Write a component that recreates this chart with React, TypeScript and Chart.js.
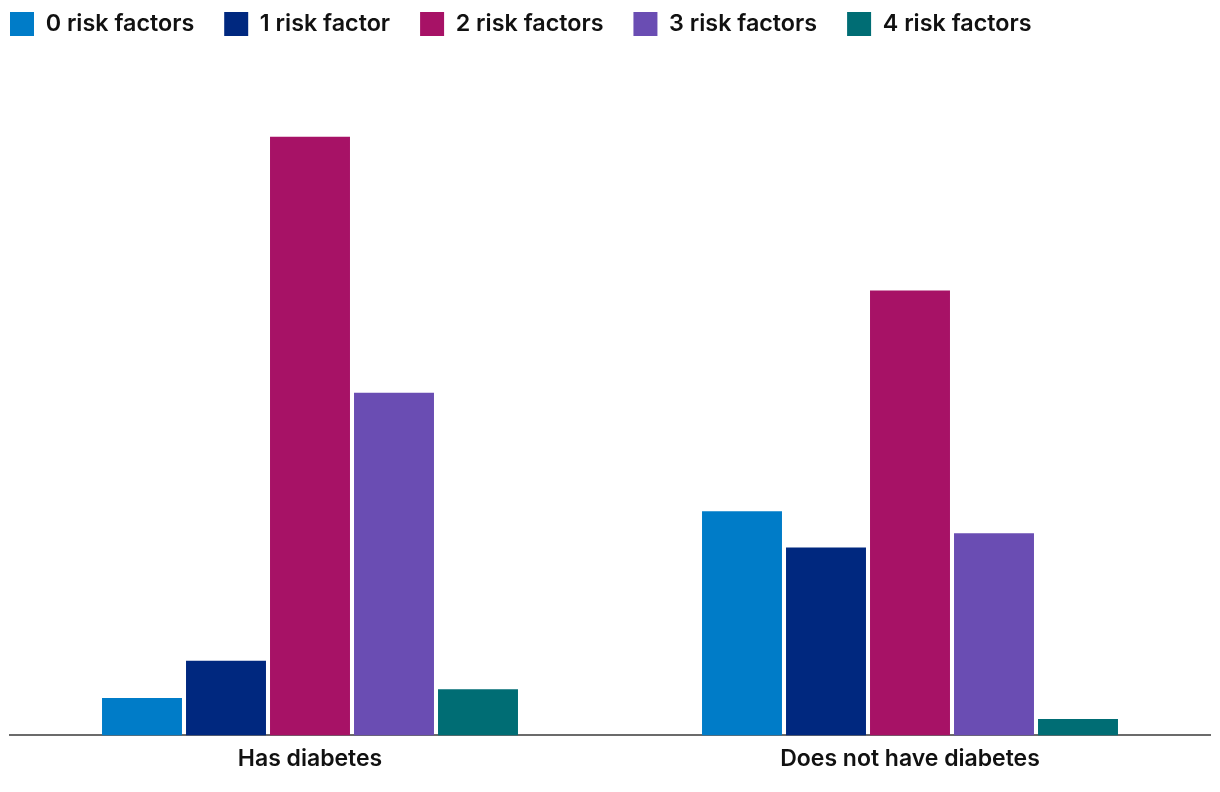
import React, { useEffect, useRef } from "react";
import { Chart, registerables } from "chart.js";

Chart.register(...registerables);

const categories = ["Has diabetes", "Does not have diabetes"];
const seriesNames = ["0 risk factors", "1 risk factor", "2 risk factors", "3 risk factors", "4 risk factors"];
const zeroRisk = [3.4, 20.4];
const oneRisk = [6.8, 17.1];
const twoRisk = [54.5, 40.5];
const threeRisk = [31.2, 18.4];
const fourRisk = [4.2, 1.5];
const seriesColors = ["#007CC8", "#00287F", "#A71266", "#6A4DB3", "#006D74"];

const FONT = "Inter, 'Noto Sans', sans-serif";

export default function App() {
  const ref = useRef<HTMLCanvasElement | null>(null);
  useEffect(() => {
    if (!ref.current) return;
    const values = [zeroRisk, oneRisk, twoRisk, threeRisk, fourRisk];
    const legendShift = {
      id: "legendShift",
      afterLayout(chart: any) {
        if (chart.legend) {
          chart.legend.left -= 30;
          chart.legend.top -= 26;
        }
      },
    };
    const chart = new Chart(ref.current, {
      type: "bar",
      data: {
        labels: categories,
        datasets: seriesNames.map((name, i) => ({
          label: name,
          data: values[i],
          backgroundColor: seriesColors[i],
          borderWidth: 0,
          categoryPercentage: 0.7,
          barPercentage: 0.952,
        })),
      },
      options: {
        animation: false,
        responsive: false,
        maintainAspectRatio: false,
        layout: { padding: { left: 2, right: 2, top: 0, bottom: 0 } },
        plugins: {
          legend: {
            position: "top",
            align: "start",
            labels: {
              boxWidth: 24,
              boxHeight: 24,
              padding: 30,
              color: "#111111",
              font: { family: FONT, size: 23.3, weight: 600 },
            },
          },
          tooltip: { enabled: false },
        },
        scales: {
          x: {
            grid: { display: false, drawTicks: false },
            border: { display: true, color: "#6b6b6b", width: 2 },
            ticks: {
              color: "#111111",
              padding: 10,
              font: { family: FONT, size: 23, weight: 600 },
            },
          },
          y: {
            display: false,
            min: 0,
            max: 60.4,
          },
        },
      },
      plugins: [legendShift],
    });
    return () => chart.destroy();
  }, []);
  return (
    <div style={{ width: 1204, height: 775 }}>
      <canvas ref={ref} width={1204} height={775} style={{ width: 1204, height: 775 }} />
    </div>
  );
}
